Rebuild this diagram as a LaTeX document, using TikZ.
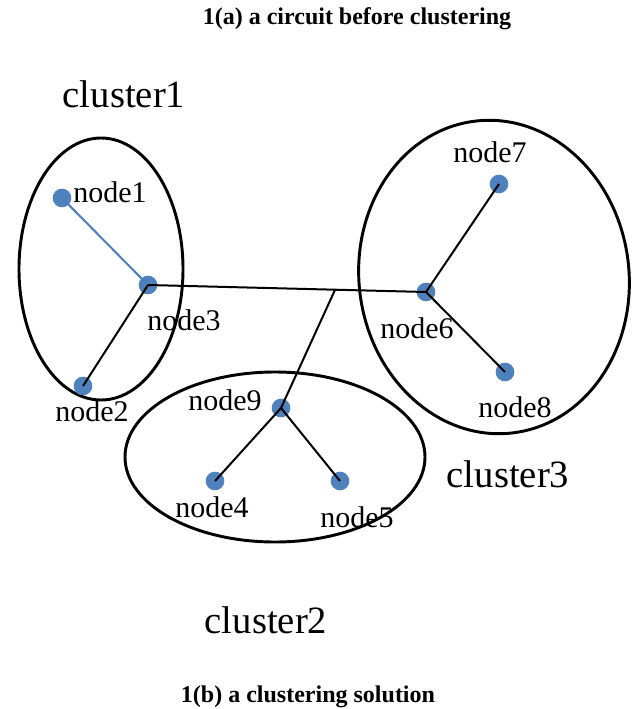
\documentclass[tikz,border=0pt]{standalone}
\usepackage{fontspec}
\setmainfont{Liberation Serif}
\usetikzlibrary{calc,shapes.geometric}
\definecolor{DotBlue}{HTML}{4F81BD}
\definecolor{WireBlue}{HTML}{4A7EBB}
\tikzset{dot/.style={circle,fill=DotBlue,inner sep=0pt,minimum size=14pt},
 cluster/.style={ellipse,draw=black,line width=2.2pt,inner sep=0pt},
 wire/.style={draw=black,line width=1.5pt},
 lbl/.style={anchor=base,font=\fontsize{22.5}{27}\selectfont},
 clbl/.style={anchor=base,font=\fontsize{29}{34}\selectfont},
 figcap/.style={anchor=base,font=\fontsize{18}{22}\selectfont\bfseries}}

\begin{document}
\begin{tikzpicture}[x=0.75pt,y=-0.75pt]
\useasboundingbox (0,0) rectangle (635,709);
\node[figcap] (capa) at (357,25) {1(a) a circuit before clustering};
\node[figcap] (capb) at (308,702) {1(b) a clustering solution};
% clusters
\node[cluster,minimum width=123pt,minimum height=196.5pt] (c1) at (101,269) {};
\node[cluster,minimum width=225pt,minimum height=127.5pt] (c2) at (275,457) {};
\node[cluster,minimum width=202.5pt,minimum height=235.5pt,rotate=7] (c3) at (494,277) {};
\node[clbl] (t1) at (124,108) {cluster1};
\node[clbl] (t2) at (266,633) {cluster2};
\node[clbl] (t3) at (508,487) {cluster3};
% nodes
\node[dot] (n1) at (62,198) {};
\node[dot] (n2) at (83,386) {};
\node[dot] (n3) at (148,285) {};
\node[dot] (n4) at (215,481) {};
\node[dot] (n5) at (340,481) {};
\node[dot] (n6) at (426,292) {};
\node[dot] (n7) at (499,184) {};
\node[dot] (n8) at (505,372) {};
\node[dot] (n9) at (281,408) {};
\node[lbl] (l1) at (110,203) {node1};
\node[lbl] (l2) at (92,421) {node2};
\node[lbl] (l3) at (184,330) {node3};
\node[lbl] (l4) at (212,517) {node4};
\node[lbl] (l5) at (357,527) {node5};
\node[lbl] (l6) at (417,338) {node6};
\node[lbl] (l7) at (490,163) {node7};
\node[lbl] (l8) at (515,417) {node8};
\node[lbl] (l9) at (225,410) {node9};
% wires
\coordinate (j) at ($(n3.center)!0.673!(n6.center)$);
\draw[draw=WireBlue,line width=1.5pt] (n1.center)--(n3.center);
\draw[wire] (n3.center)--(n2.center);
\draw[wire] (n3.center)--(n6.center);
\draw[wire] (j)--(n9.center);
\draw[wire] (n9.center)--(n4.center);
\draw[wire] (n9.center)--(n5.center);
\draw[wire] (n6.center)--(n7.center);
\draw[wire] (n6.center)--(n8.center);
\end{tikzpicture}
\end{document}
